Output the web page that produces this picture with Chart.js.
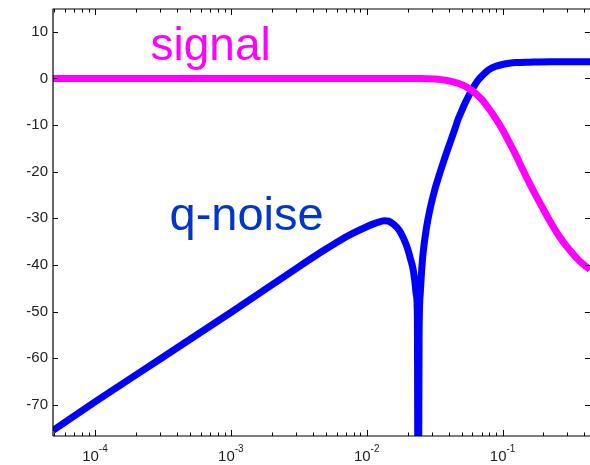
<!DOCTYPE html>
<html>
<head>
<meta charset="utf-8">
<script src="https://cdn.jsdelivr.net/npm/chart.js@4/dist/chart.umd.min.js"></script>
<style>
  html, body { margin: 0; padding: 0; background: #fff; overflow: hidden; }
  canvas { display: block; }
</style>
</head>
<body>
<canvas id="c" width="590" height="465"></canvas>
<script>
// Signal transfer function magnitude (dB) vs normalized frequency
const signalFreq = [4.91e-5, 1e-4, 1e-3, 0.01, 0.0251, 0.0316, 0.0355, 0.0398, 0.0447, 0.0501,
  0.0562, 0.0631, 0.0708, 0.0794, 0.0891, 0.1, 0.112, 0.126, 0.141, 0.158, 0.178, 0.2, 0.224,
  0.251, 0.282, 0.316, 0.355, 0.398, 0.44];
const signalDb = [0, 0, 0, 0, 0, -0.1, -0.25, -0.5, -0.85, -1.35,
  -2.1, -3.2, -4.6, -6.5, -8.6, -11.0, -13.7, -16.6, -19.6, -22.5, -25.4, -28.1, -30.7,
  -33.1, -35.2, -37.0, -38.7, -40.0, -41.0];

// Quantization-noise transfer function magnitude (dB)
const noiseFreq = [4.91e-5, 1e-4, 3.16e-4, 1e-3, 3.16e-3, 5.01e-3, 6.31e-3, 7.94e-3, 0.01, 0.0112,
  0.0126, 0.0135, 0.0145, 0.0158, 0.0174, 0.0186, 0.02, 0.0209, 0.0219, 0.0226, 0.0232, 0.0236,
  0.0239, 0.0243, 0.0248, 0.0257, 0.0269, 0.0282, 0.0299, 0.0316, 0.0335, 0.0355, 0.0376, 0.0398,
  0.0422, 0.0447, 0.0473, 0.0501, 0.0531, 0.0562, 0.0596, 0.0631, 0.0668, 0.0708, 0.075, 0.0794,
  0.0891, 0.1, 0.112, 0.126, 0.158, 0.224, 0.44];
const noiseDb = [-75.5, -69.4, -59.8, -50.2, -40.4, -36.6, -34.8, -33.2, -31.8, -31.2,
  -30.7, -30.5, -30.6, -31.3, -32.6, -34.2, -36.5, -38.5, -40.8, -43.5, -46.5, -51.0,
  -110.0, -55.0, -46.0, -39.0, -34.0, -30.3, -26.8, -24.0, -21.5, -19.2, -17.0, -14.9,
  -12.8, -10.7, -8.6, -6.9, -5.2, -3.8, -2.4, -1.2, -0.2, 0.6, 1.3, 1.9,
  2.6, 3.0, 3.25, 3.4, 3.5, 3.6, 3.6];

const xDecades = [-4, -3, -2, -1];
const yTicks = [10, 0, -10, -20, -30, -40, -50, -60, -70];
const xRange = [4.91e-5, 0.44];
const yRange = [-76.7, 14.9];

const toPoints = (xs, ys) => xs.map((x, i) => ({ x: x, y: ys[i] }));

const axisFont = '"Liberation Sans", Arial, sans-serif';

const framePlugin = {
  id: 'frame',
  afterDraw(chart) {
    const ctx = chart.ctx;
    const a = chart.chartArea;
    const xs = chart.scales.x;
    const ys = chart.scales.y;
    ctx.save();
    ctx.strokeStyle = '#000';
    ctx.lineWidth = 1.2;

    // box
    ctx.beginPath();
    ctx.moveTo(a.left, a.bottom);
    ctx.lineTo(a.left, a.top);
    ctx.lineTo(a.right, a.top);
    ctx.moveTo(a.left, a.bottom);
    ctx.lineTo(a.right, a.bottom);
    ctx.stroke();

    // x ticks (major + minor), bottom and top, pointing inward
    ctx.lineWidth = 1;
    ctx.beginPath();
    for (let d = -5; d <= 0; d++) {
      for (let k = 1; k <= 9; k++) {
        const v = k * Math.pow(10, d);
        if (v < xRange[0] || v > xRange[1]) continue;
        const px = Math.round(xs.getPixelForValue(v)) + 0.5;
        const len = k === 1 ? 6 : 3.5;
        ctx.moveTo(px, a.bottom);
        ctx.lineTo(px, a.bottom - len);
        ctx.moveTo(px, a.top);
        ctx.lineTo(px, a.top + len);
      }
    }
    // y ticks, left and right
    yTicks.forEach(v => {
      const py = Math.round(ys.getPixelForValue(v)) + 0.5;
      ctx.moveTo(a.left, py);
      ctx.lineTo(a.left + 5, py);
      ctx.moveTo(a.right, py);
      ctx.lineTo(a.right - 5, py);
    });
    ctx.stroke();

    // y tick labels
    ctx.fillStyle = '#222';
    ctx.font = '15px ' + axisFont;
    ctx.textAlign = 'right';
    ctx.textBaseline = 'middle';
    yTicks.forEach(v => {
      ctx.fillText(String(v), a.left - 5, ys.getPixelForValue(v));
    });

    // x tick labels: 10 with a superscript exponent
    ctx.textAlign = 'left';
    ctx.textBaseline = 'alphabetic';
    xDecades.forEach(e => {
      const px = xs.getPixelForValue(Math.pow(10, e));
      ctx.font = '15px ' + axisFont;
      const base = '10';
      const wb = ctx.measureText(base).width;
      ctx.font = '10px ' + axisFont;
      const sup = String(e);
      const ws = ctx.measureText(sup).width;
      const x0 = px - (wb + ws) / 2;
      ctx.font = '15px ' + axisFont;
      ctx.fillText(base, x0, 461);
      ctx.font = '10px ' + axisFont;
      ctx.fillText(sup, x0 + wb, 452);
    });

    // curve names
    ctx.font = '46px ' + axisFont;
    ctx.fillStyle = '#FF00FF';
    ctx.fillText('signal', 150.5, 60);
    ctx.font = '47px ' + axisFont;
    ctx.fillStyle = '#0036CC';
    ctx.fillText('q-noise', 169.5, 230);
    ctx.restore();
  }
};

new Chart(document.getElementById('c'), {
  type: 'line',
  data: {
    datasets: [
      {
        label: 'signal',
        data: toPoints(signalFreq, signalDb),
        borderColor: '#FF00FF',
        borderWidth: 7,
        pointRadius: 0,
        cubicInterpolationMode: 'monotone',
        borderJoinStyle: 'round'
      },
      {
        label: 'q-noise',
        data: toPoints(noiseFreq, noiseDb),
        borderColor: '#0000FF',
        borderWidth: 7,
        pointRadius: 0,
        cubicInterpolationMode: 'monotone',
        borderJoinStyle: 'round'
      }
    ]
  },
  options: {
    responsive: false,
    animation: false,
    devicePixelRatio: 1,
    layout: { padding: { left: 53, top: 9, right: 0, bottom: 29 } },
    plugins: { legend: { display: false }, tooltip: { enabled: false } },
    scales: {
      x: { type: 'logarithmic', min: xRange[0], max: xRange[1], display: false },
      y: { type: 'linear', min: yRange[0], max: yRange[1], display: false }
    }
  },
  plugins: [framePlugin]
});
</script>
</body>
</html>
